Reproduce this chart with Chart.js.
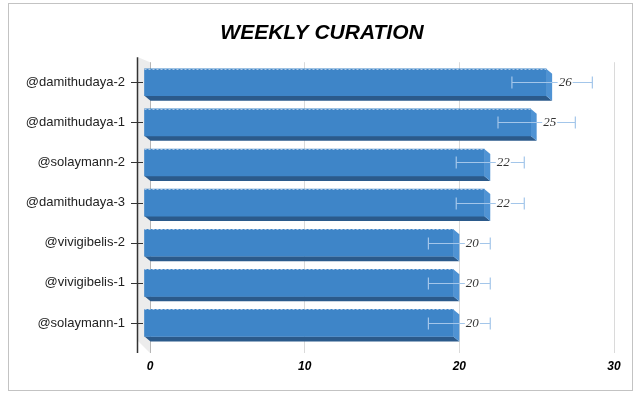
<!DOCTYPE html>
<html>
<head>
<meta charset="utf-8">
<script src="https://cdn.jsdelivr.net/npm/chart.js@4/dist/chart.umd.min.js"></script>
<style>
  html, body { margin: 0; padding: 0; background: #fff; }
  #wrap { width: 640px; height: 398px; position: relative; }
</style>
</head>
<body>
<div id="wrap"><canvas id="curation"></canvas></div>
<script>
// chart data
const categories = ['@damithudaya-2', '@damithudaya-1', '@solaymann-2', '@damithudaya-3', '@vivigibelis-2', '@vivigibelis-1', '@solaymann-1'];
const curationValues = [26, 25, 22, 22, 20, 20, 20];
const errorMargins = [2.6, 2.5, 2.2, 2.2, 2, 2, 2];
const xTicks = [0, 10, 20, 30];

// 3d look: front face is pushed left, depth goes down-right
const DEPTH_X = 6;
const DEPTH_Y = 5;

const frameAndWall = {
    id: 'frameAndWall',
    afterLayout(chart) {
        // title sits centred on the frame, not on the plot
        if (chart.titleBlock) {
            chart.titleBlock.left += 10;
            chart.titleBlock.right += 10;
        }
    },
    beforeDraw(chart) {
        const ctx = chart.ctx;
        ctx.save();
        ctx.fillStyle = '#fff';
        ctx.fillRect(0, 0, chart.width, chart.height);
        ctx.strokeStyle = '#c3c3c3';
        ctx.lineWidth = 1;
        ctx.strokeRect(8.5, 3.5, 624, 387);
        ctx.restore();
    },
    beforeDatasetsDraw(chart) {
        const ctx = chart.ctx;
        const area = chart.chartArea;
        const yScale = chart.scales.y;
        const left = area.left;
        ctx.save();
        // side wall
        ctx.fillStyle = '#ececec';
        ctx.beginPath();
        ctx.moveTo(left - 12, area.top - 5);
        ctx.lineTo(left, area.top);
        ctx.lineTo(left, area.bottom + 10);
        ctx.lineTo(left - 12, area.bottom - 2);
        ctx.closePath();
        ctx.fill();
        // axis line
        ctx.strokeStyle = '#333';
        ctx.lineWidth = 1.5;
        ctx.beginPath();
        ctx.moveTo(left - 12.5, area.top - 5);
        ctx.lineTo(left - 12.5, area.bottom + 10);
        ctx.stroke();
        ctx.lineWidth = 1;
        categories.forEach((c, i) => {
            const y = Math.round(yScale.getPixelForValue(i)) + 0.5;
            ctx.beginPath();
            ctx.moveTo(left - 19, y);
            ctx.lineTo(left - 7, y);
            ctx.stroke();
        });
        ctx.restore();
    },
    beforeDatasetDraw(chart, args) {
        const ctx = chart.ctx;
        const meta = args.meta;
        ctx.save();
        meta.data.forEach(bar => {
            const p = bar.getProps(['x', 'y', 'base', 'height'], true);
            const top = p.y - p.height / 2;
            const bot = p.y + p.height / 2;
            const fx0 = p.base - DEPTH_X;
            const fx1 = p.x - DEPTH_X;
            // bottom face
            ctx.fillStyle = '#2b5a8b';
            ctx.beginPath();
            ctx.moveTo(fx0, bot);
            ctx.lineTo(fx1, bot);
            ctx.lineTo(p.x, bot + DEPTH_Y);
            ctx.lineTo(p.base, bot + DEPTH_Y);
            ctx.closePath();
            ctx.fill();
            // right face
            ctx.fillStyle = '#4f93d4';
            ctx.beginPath();
            ctx.moveTo(fx1, top);
            ctx.lineTo(p.x, top + DEPTH_Y);
            ctx.lineTo(p.x, bot + DEPTH_Y);
            ctx.lineTo(fx1, bot);
            ctx.closePath();
            ctx.fill();
        });
        // the front face is drawn by chart.js, shifted to the front plane
        ctx.translate(-DEPTH_X, 0);
    },
    afterDatasetDraw(chart, args) {
        const ctx = chart.ctx;
        ctx.restore();
        ctx.save();
        // faint dashed top edge
        ctx.strokeStyle = 'rgba(200,215,235,0.8)';
        ctx.setLineDash([2, 2]);
        ctx.lineWidth = 1;
        args.meta.data.forEach(bar => {
            const p = bar.getProps(['x', 'y', 'base', 'height'], true);
            const top = Math.round(p.y - p.height / 2) + 0.5;
            ctx.beginPath();
            ctx.moveTo(p.base - DEPTH_X, top);
            ctx.lineTo(p.x - DEPTH_X, top);
            ctx.stroke();
        });
        ctx.restore();
    },
    afterDatasetsDraw(chart) {
        const ctx = chart.ctx;
        const xScale = chart.scales.x;
        const yScale = chart.scales.y;
        ctx.save();
        curationValues.forEach((v, i) => {
            const y = Math.round(yScale.getPixelForValue(i)) + 0.5;
            const lo = xScale.getPixelForValue(v - errorMargins[i]);
            const hi = xScale.getPixelForValue(v + errorMargins[i]);
            ctx.strokeStyle = '#a3c6ea';
            ctx.lineWidth = 1.2;
            ctx.beginPath();
            ctx.moveTo(lo, y);
            ctx.lineTo(hi, y);
            ctx.moveTo(lo, y - 6);
            ctx.lineTo(lo, y + 6);
            ctx.moveTo(hi, y - 6);
            ctx.lineTo(hi, y + 6);
            ctx.stroke();
            // value label
            const lx = xScale.getPixelForValue(v) + 13;
            ctx.font = 'italic 13px "Liberation Serif", "Times New Roman", serif';
            const w = ctx.measureText(String(v)).width;
            ctx.fillStyle = '#fff';
            ctx.fillRect(lx - w / 2 - 1, y - 2, w + 2, 4);
            ctx.fillStyle = '#333';
            ctx.textAlign = 'center';
            ctx.textBaseline = 'middle';
            ctx.fillText(String(v), lx, y);
        });
        ctx.restore();
    }
};

const ctx = document.getElementById('curation').getContext('2d');
new Chart(ctx, {
    type: 'bar',
    data: {
        labels: categories,
        datasets: [{
            label: 'Weekly curation',
            data: curationValues,
            backgroundColor: '#3e85c8',
            borderWidth: 0,
            barThickness: 27
        }]
    },
    options: {
        indexAxis: 'y',
        responsive: true,
        maintainAspectRatio: false,
        animation: false,
        layout: {
            padding: { top: 11, left: 10, right: 26, bottom: 0 }
        },
        plugins: {
            legend: { display: false },
            tooltip: { enabled: false },
            title: {
                display: true,
                text: 'WEEKLY CURATION',
                color: '#000',
                font: { family: '"Liberation Sans", Arial, sans-serif', size: 21, weight: 'bold', style: 'italic' },
                padding: { top: 10, bottom: 16 }
            }
        },
        scales: {
            x: {
                min: 0,
                max: 30,
                afterBuildTicks(scale) {
                    scale.ticks = xTicks.map(v => ({ value: v }));
                },
                afterFit(scale) {
                    scale.height = 55;
                },
                border: { display: false },
                grid: {
                    color: c => c.index === 0 ? '#b5b5b5' : '#dadada',
                    tickLength: 10,
                    lineWidth: 1
                },
                ticks: {
                    color: '#000',
                    padding: 6,
                    font: { family: '"Liberation Sans", Arial, sans-serif', size: 12, weight: 'bold', style: 'italic' }
                }
            },
            y: {
                afterFit(scale) {
                    scale.width = 140;
                },
                border: { display: false },
                grid: { display: false, drawTicks: false },
                ticks: {
                    color: '#222',
                    padding: 25,
                    font: { family: '"Liberation Sans", Arial, sans-serif', size: 13 }
                }
            }
        }
    },
    plugins: [frameAndWall]
});
</script>
</body>
</html>
